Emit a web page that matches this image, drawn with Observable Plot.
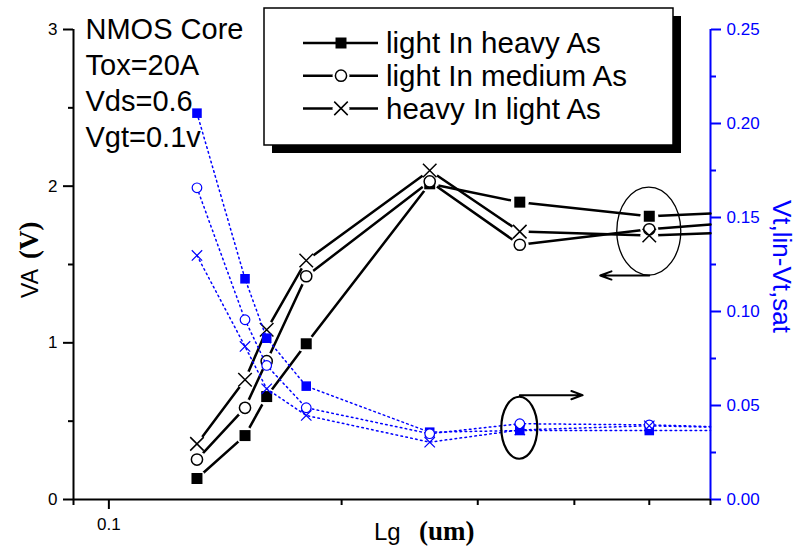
<!DOCTYPE html>
<html><head><meta charset="utf-8">
<script src="https://cdn.jsdelivr.net/npm/d3@7"></script>
<script src="https://cdn.jsdelivr.net/npm/@observablehq/plot@0.6"></script>
<style>body{margin:0;background:#fff}</style>
</head><body><div id="chart"></div>
<script>
// ---- data ----
const lg = [0.13, 0.15, 0.16, 0.18, 0.26, 0.34, 0.5, 0.6];
const seriesNames = ["light In heavy As", "light In medium As", "heavy In light As"];
const vaLightInHeavyAs  = [0.134, 0.408, 0.657, 0.994, 2.015, 1.898, 1.808, 1.825];
const vaLightInMediumAs = [0.255, 0.585, 0.883, 1.425, 2.030, 1.626, 1.725, 1.755];
const vaHeavyInLightAs  = [0.355, 0.764, 1.083, 1.525, 2.100, 1.710, 1.685, 1.700];
const dvtLightInHeavyAs  = [0.2055, 0.1174, 0.0858, 0.0603, 0.0358, 0.0367, 0.0367, 0.0367];
const dvtLightInMediumAs = [0.1658, 0.0956, 0.0713, 0.0488, 0.0350, 0.0403, 0.0397, 0.0388];
const dvtHeavyInLightAs  = [0.1298, 0.0814, 0.0589, 0.0447, 0.0305, 0.0370, 0.0392, 0.0385];
const markedPoints = 7; // last value is where the curves leave the frame
const annotationLines = ["NMOS Core", "Tox=20A", "Vds=0.6", "Vgt=0.1v"];
const xMajorTicks = [0.1];
const xMinorTicks = [0.09, 0.2, 0.3, 0.4, 0.5, 0.6];
const leftTicks = [0, 1, 2, 3];
const leftMinorTicks = [0.5, 1.5, 2.5];
const rightTicks = [0, 0.05, 0.10, 0.15, 0.20, 0.25];
const rightMinorTicks = [0.025, 0.075, 0.125, 0.175, 0.225];
const xDomain = [0.09, 0.6];
const leftDomain = [0, 3];
const rightDomain = [0, 0.25];
// callouts: ellipse around VA points at Lg=0.5 (arrow to left axis), around ΔVt points at Lg=0.34 (arrow to right axis)
const calloutVA = {x: 0.5, y: 1.71, arrowTo: 0.432, arrowY: 1.43};
const calloutVt = {x: 0.34, y: 0.0379, arrowTo: 0.41, arrowY: 0.0555};

// ---- build ----
const K = leftDomain[1] / rightDomain[1];
const vaSeries = [vaLightInHeavyAs, vaLightInMediumAs, vaHeavyInLightAs];
const vtSeries = [dvtLightInHeavyAs, dvtLightInMediumAs, dvtHeavyInLightAs];
const rowsOf = (arr, scale) => lg.map((x, i) => ({x, y: arr[i] * scale, i}));
const FONT = "'Liberation Sans', Arial, Helvetica, sans-serif";
const SERIF = "'Liberation Serif', 'Times New Roman', serif";
const BLUE = "#0000ff";

const blackSym = [
  {symbol: "square", r: 6.2, fill: "black", stroke: "none"},
  {symbol: "circle", r: 5.6, fill: "white", stroke: "black"},
  {symbol: "times", r: 6.2, fill: "none", stroke: "black"}
];
const blueSym = [
  {symbol: "square", r: 5.4, fill: BLUE, stroke: "none"},
  {symbol: "circle", r: 4.8, fill: "white", stroke: BLUE},
  {symbol: "times", r: 4.8, fill: "none", stroke: BLUE}
];

const marks = [];
// axis lines
marks.push(Plot.ruleY([0], {stroke: "black", strokeWidth: 2}));
marks.push(Plot.ruleX([xDomain[0]], {stroke: "black", strokeWidth: 2}));
marks.push(Plot.ruleX([xDomain[1]], {stroke: BLUE, strokeWidth: 2}));
// axes
marks.push(Plot.axisX(xMajorTicks, {tickSize: 10, tickPadding: 8, fontSize: 17, strokeWidth: 2, tickFormat: d => String(d), label: null}));
marks.push(Plot.axisX(xMinorTicks, {tickSize: 6, strokeWidth: 2, tickFormat: () => "", label: null}));
marks.push(Plot.axisY(leftTicks, {anchor: "left", tickSize: 10, tickPadding: 6, fontSize: 17, strokeWidth: 2, tickFormat: d => String(d), label: null}));
marks.push(Plot.axisY(leftMinorTicks, {anchor: "left", tickSize: 5, strokeWidth: 2, tickFormat: () => "", label: null}));
marks.push(Plot.axisY(rightTicks.map(v => v * K), {anchor: "right", tickSize: 10, tickPadding: 6, fontSize: 17, strokeWidth: 2, color: BLUE, tickFormat: d => (d / K).toFixed(2), label: null}));
marks.push(Plot.axisY(rightMinorTicks.map(v => v * K), {anchor: "right", tickSize: 5, strokeWidth: 2, color: BLUE, tickFormat: () => "", label: null}));

// black VA series: line + white halo (gap) per series, markers afterwards
vaSeries.forEach((arr, j) => {
  const rows = rowsOf(arr, 1);
  marks.push(Plot.line(rows, {x: "x", y: "y", stroke: "black", strokeWidth: 2.5}));
  marks.push(Plot.dot(rows.filter(d => d.i < markedPoints), {x: "x", y: "y", r: 9, fill: "white", stroke: "none"}));
});
vaSeries.forEach((arr, j) => {
  const rows = rowsOf(arr, 1).filter(d => d.i < markedPoints);
  const s = blackSym[j];
  marks.push(Plot.dot(rows, {x: "x", y: "y", symbol: s.symbol, r: s.r, fill: s.fill, stroke: s.stroke, strokeWidth: 1.5}));
});
// blue ΔVt series (right axis)
vtSeries.forEach((arr, j) => {
  const rows = rowsOf(arr, K);
  marks.push(Plot.line(rows, {x: "x", y: "y", stroke: BLUE, strokeWidth: 1.5, strokeDasharray: "1.6,3.4"}));
});
vtSeries.forEach((arr, j) => {
  const rows = rowsOf(arr, K).filter(d => d.i < markedPoints);
  const s = blueSym[j];
  marks.push(Plot.dot(rows, {x: "x", y: "y", symbol: s.symbol, r: s.r, fill: s.fill, stroke: s.stroke, strokeWidth: 1.2}));
});
// callout arrows
marks.push(Plot.arrow([calloutVA], {x1: "x", y1: "arrowY", x2: "arrowTo", y2: "arrowY", stroke: "black", strokeWidth: 2, headLength: 9, headAngle: 40}));
marks.push(Plot.arrow([{...calloutVt, arrowY: calloutVt.arrowY * K}], {x1: "x", y1: "arrowY", x2: "arrowTo", y2: "arrowY", stroke: "black", strokeWidth: 2, headLength: 9, headAngle: 40}));
// condition annotation
marks.push(Plot.text([annotationLines.join("\n")], {frameAnchor: "top-left", textAnchor: "start", lineAnchor: "top", dx: 12, dy: -16, fontSize: 29, lineHeight: 36 / 29, fill: "black"}));

const chart = Plot.plot({
  width: 798, height: 553,
  marginLeft: 73, marginRight: 88, marginTop: 29, marginBottom: 54,
  style: {fontFamily: FONT, background: "white", overflow: "visible", color: "black"},
  x: {type: "log", domain: xDomain},
  y: {domain: leftDomain},
  marks
});

const svg = d3.select(chart);
const xs = chart.scale("x"), ys = chart.scale("y");
// callout ellipses
svg.append("ellipse").attr("cx", xs.apply(calloutVA.x)).attr("cy", ys.apply(calloutVA.y))
  .attr("rx", 32).attr("ry", 44).attr("fill", "none").attr("stroke", "black").attr("stroke-width", 1.3);
svg.append("ellipse").attr("cx", xs.apply(calloutVt.x)).attr("cy", ys.apply(calloutVt.y * K))
  .attr("rx", 18).attr("ry", 31).attr("fill", "none").attr("stroke", "black").attr("stroke-width", 2.2);

// legend box with shadow
const lgX = 264, lgY = 8, lgW = 409, lgH = 137;
const leg = svg.append("g").attr("font-family", FONT).attr("text-anchor", "start");
leg.append("rect").attr("x", lgX + 8).attr("y", lgY + 8).attr("width", lgW).attr("height", lgH).attr("fill", "black");
leg.append("rect").attr("x", lgX).attr("y", lgY).attr("width", lgW).attr("height", lgH).attr("fill", "white").attr("stroke", "black").attr("stroke-width", 1.5);
const symMap = {square: d3.symbolSquare, circle: d3.symbolCircle, times: d3.symbolTimes};
seriesNames.forEach((name, j) => {
  const cy = 43 + j * 32.7;
  leg.append("line").attr("x1", 303).attr("x2", 378).attr("y1", cy).attr("y2", cy).attr("stroke", "black").attr("stroke-width", 2.5);
  const s = blackSym[j];
  if (s.symbol !== "square") leg.append("circle").attr("cx", 341).attr("cy", cy).attr("r", 8.5).attr("fill", "white");
  leg.append("path").attr("transform", `translate(341,${cy})`)
    .attr("d", d3.symbol(symMap[s.symbol], Math.PI * s.r * s.r)())
    .attr("fill", s.fill).attr("stroke", s.stroke).attr("stroke-width", 1.5);
  leg.append("text").attr("x", 386).attr("y", cy).attr("dy", "0.35em").attr("font-size", 29.5).attr("text-anchor", "start").text(name);
});

// axis titles
const titles = svg.append("g").attr("text-anchor", "start");
titles.append("text").attr("transform", "translate(38,298) rotate(-90)").attr("font-family", FONT).attr("font-size", 23).attr("fill", "black").text("VA");
titles.append("text").attr("transform", "translate(38,259) rotate(-90)").attr("font-family", SERIF)
  .attr("font-size", 27).attr("font-weight", "bold").attr("fill", "black").text("(V)");

titles.append("text").attr("x", 374).attr("y", 540).attr("font-family", FONT).attr("font-size", 24).attr("fill", "black").text("Lg");
titles.append("text").attr("x", 419).attr("y", 540).attr("font-family", SERIF).attr("font-size", 27).attr("font-weight", "bold").attr("fill", "black").text("(um)");

titles.append("text").attr("transform", "translate(773,200) rotate(90)").attr("font-family", FONT).attr("font-size", 26).attr("fill", BLUE).text("Vt,lin-Vt,sat");

document.getElementById("chart").appendChild(chart);
</script>
</body></html>
